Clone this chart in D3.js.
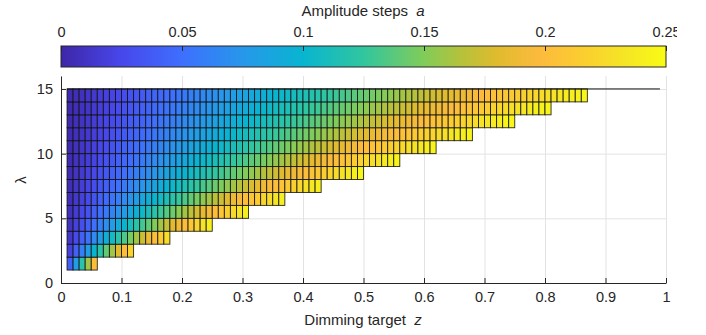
<!DOCTYPE html>
<html lang="en">
<head>
<meta charset="utf-8">
<title>Amplitude steps</title>
<style>
  * { margin: 0; padding: 0; box-sizing: border-box; }
  body { background: #fff; overflow: hidden; }
  svg { display: block; }
  text { font-family: "Liberation Sans", Arial, Helvetica, sans-serif; fill: #262626; }
  .tick text { font-size: 14.5px; }
  .axis path, .axis line { stroke: #262626; }
  .grid line { stroke: #e3e3e3; }
  .grid path { display: none; }
</style>
</head>
<body>
<svg id="chart" width="706" height="335"></svg>
<script src="https://d3js.org/d3.v7.min.js"></script>
<script>
// rows of the mesh: lower edge lambda, and the last z reached in that row
const rowLambda = [1, 2, 3, 4, 5, 6, 7, 8, 9, 10, 11, 12, 13, 14];
const rowZMax   = [0.06, 0.12, 0.18, 0.25, 0.31, 0.37, 0.43, 0.50, 0.56, 0.62, 0.68, 0.75, 0.81, 0.87];
const zStart = 0.01;
const zStep = 0.01;
const topLambda = 15;
const topZMax = 0.99;
const aMax = 0.25;   // each row hits a = 0.25 where z = lambda / 16

const xTicks = [0, 0.1, 0.2, 0.3, 0.4, 0.5, 0.6, 0.7, 0.8, 0.9, 1];
const yTicks = [0, 5, 10, 15];
const cTicks = [0, 0.05, 0.1, 0.15, 0.2, 0.25];

// parula approximation
const parulaStops = [
  [0.00, "#3e26a8"], [0.10, "#4747eb"], [0.20, "#3e6ffe"], [0.30, "#2797eb"],
  [0.40, "#08b5d0"], [0.50, "#31c69f"], [0.60, "#81cc59"], [0.66, "#b4c23c"],
  [0.72, "#e0bb2e"], [0.79, "#fcba3d"], [0.86, "#fbcd30"], [0.93, "#f5e526"],
  [1.00, "#f9fb14"]
];
const parula = d3.scaleLinear()
  .domain(parulaStops.map(d => d[0]))
  .range(parulaStops.map(d => d[1]))
  .interpolate(d3.interpolateRgb)
  .clamp(true);

const svg = d3.select("#chart");

const x = d3.scaleLinear().domain([0, 1]).range([61, 666]);
const y = d3.scaleLinear().domain([0, 16]).range([283, 76]);
const c = d3.scaleLinear().domain([0, aMax]).range([61, 666]);
const colorOf = a => parula(a / aMax);

// Grid
svg.append("g").attr("class", "grid")
  .attr("transform", "translate(0,283)")
  .call(d3.axisBottom(x).tickValues(xTicks).tickSize(-(283 - 76)).tickFormat(""));
svg.append("g").attr("class", "grid")
  .attr("transform", "translate(61,0)")
  .call(d3.axisLeft(y).tickValues(yTicks).tickSize(-(666 - 61)).tickFormat(""));

// Cells
const cells = [];
rowLambda.forEach((lam, i) => {
  const n = Math.round((rowZMax[i] - zStart) / zStep);
  for (let k = 0; k < n; k++) {
    const z0 = zStart + k * zStep;
    cells.push({ lam, z0, z1: z0 + zStep, a: aMax * z0 / (lam / 16) });
  }
});

svg.append("g").selectAll("rect")
  .data(cells).join("rect")
  .attr("x", d => x(d.z0))
  .attr("y", d => y(d.lam + 1))
  .attr("width", d => x(d.z1) - x(d.z0))
  .attr("height", d => y(d.lam) - y(d.lam + 1))
  .attr("fill", d => colorOf(d.a))
  .attr("stroke", "#111")
  .attr("stroke-opacity", 0.9)
  .attr("stroke-width", 0.9);

// top edge of the mesh
svg.append("line")
  .attr("x1", x(zStart)).attr("x2", x(topZMax))
  .attr("y1", y(topLambda)).attr("y2", y(topLambda))
  .attr("stroke", "#111").attr("stroke-width", 1);

// Axes
svg.append("g").attr("class", "axis")
  .attr("transform", "translate(0,283)")
  .call(d3.axisBottom(x).tickValues(xTicks).tickSizeInner(-5).tickSizeOuter(0)
    .tickPadding(9).tickFormat(d3.format("")));
svg.append("g").attr("class", "axis")
  .attr("transform", "translate(61,0)")
  .call(d3.axisLeft(y).tickValues(yTicks).tickSizeInner(-5).tickSizeOuter(0).tickPadding(8));

svg.append("text")
  .attr("x", 363).attr("y", 325)
  .attr("text-anchor", "middle")
  .attr("font-size", 15)
  .html('Dimming target <tspan font-style="italic" dx="4">z</tspan>');

svg.append("text")
  .attr("transform", "translate(26,180) rotate(-90)")
  .attr("text-anchor", "middle")
  .attr("font-size", 15)
  .text("λ");

// Colorbar
const defs = svg.append("defs");
const grad = defs.append("linearGradient").attr("id", "parula");
parulaStops.forEach(s => grad.append("stop").attr("offset", s[0]).attr("stop-color", s[1]));
// the figure edge cuts the last label
defs.append("clipPath").attr("id", "cbclip")
  .append("rect").attr("x", 0).attr("y", -50).attr("width", 677).attr("height", 60);

svg.append("rect")
  .attr("x", c(0)).attr("y", 46)
  .attr("width", c(aMax) - c(0)).attr("height", 21)
  .attr("fill", "url(#parula)")
  .attr("stroke", "#262626").attr("stroke-width", 1);

const cAxis = svg.append("g").attr("class", "axis")
  .attr("transform", "translate(0,46)")
  .attr("clip-path", "url(#cbclip)")
  .call(d3.axisTop(c).tickValues(cTicks).tickSizeInner(-5).tickSizeOuter(0)
    .tickPadding(9).tickFormat(d3.format("")));
cAxis.select(".domain").remove();

svg.append("text")
  .attr("x", 363).attr("y", 16)
  .attr("text-anchor", "middle")
  .attr("font-size", 15)
  .html('Amplitude steps <tspan font-style="italic" dx="4">a</tspan>');
</script>
</body>
</html>
